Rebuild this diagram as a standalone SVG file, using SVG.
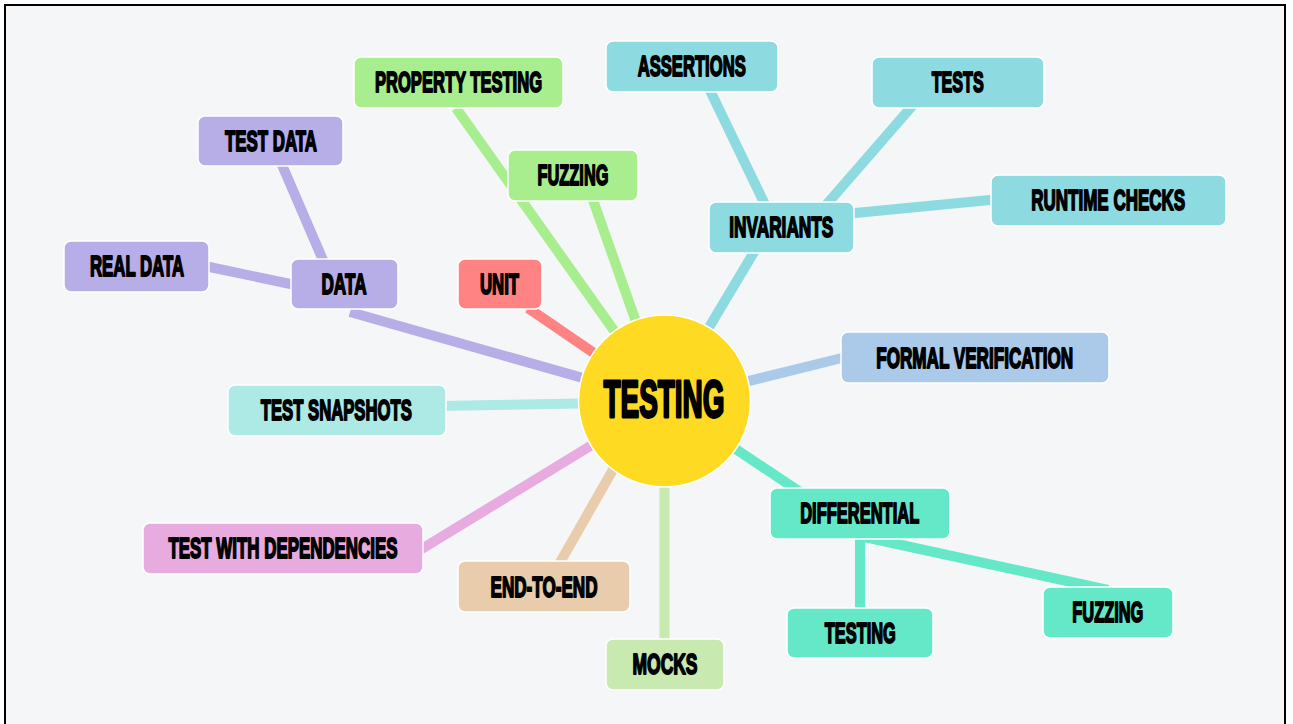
<svg xmlns="http://www.w3.org/2000/svg" width="1293" height="724" viewBox="0 0 1293 724">
  <style>
    .box { stroke: #ffffff; stroke-width: 1.5; }
    /* labels are set small and stretched vertically into a tall condensed face */
    .lbl { font-family: "Liberation Sans", Arial, "DejaVu Sans", sans-serif; font-weight: bold; font-size: 16px; fill: #000; stroke: #000; stroke-width: 1; stroke-linejoin: round; text-anchor: middle; }
    .hub { font-size: 28px; stroke-width: 1.5; }
    .edge { fill: none; stroke-width: 10; stroke-linecap: butt; }
    .purple { fill: #b7ade7; } .purple-l { stroke: #b7ade7; }
    .green { fill: #a8ee8e; } .green-l { stroke: #a8ee8e; }
    .cyan { fill: #8ddae0; } .cyan-l { stroke: #8ddae0; }
    .red { fill: #ff8383; } .red-l { stroke: #ff8383; }
    .blue { fill: #abc9e9; } .blue-l { stroke: #abc9e9; }
    .aqua { fill: #ade9e5; } .aqua-l { stroke: #ade9e5; }
    .pink { fill: #e8abe0; } .pink-l { stroke: #e8abe0; }
    .tan { fill: #e9ccac; } .tan-l { stroke: #e9ccac; }
    .lime { fill: #c8e9af; } .lime-l { stroke: #c8e9af; }
    .mint { fill: #64e8c8; } .mint-l { stroke: #64e8c8; }
  </style>

  <!-- canvas and frame -->
  <rect x="0" y="0" width="1293" height="724" fill="#ffffff"/>
  <rect x="5" y="5" width="1280" height="719" fill="#f5f6f8"/>
  <path d="M5 724 V5 H1285 V724" fill="none" stroke="#000" stroke-width="2"/>

  <!-- connectors -->
  <g id="connectors">
    <line class="edge green-l" x1="664" y1="401" x2="456" y2="108"/>
    <line class="edge green-l" x1="664" y1="401" x2="593" y2="200"/>
    <line class="edge red-l" x1="664" y1="401" x2="528" y2="308"/>
    <line class="edge purple-l" x1="664" y1="401" x2="350" y2="312"/>
    <line class="edge purple-l" x1="279" y1="158" x2="326" y2="267"/>
    <line class="edge purple-l" x1="200" y1="265" x2="300" y2="286"/>
    <line class="edge aqua-l" x1="664" y1="402" x2="440" y2="406"/>
    <line class="edge pink-l" x1="664" y1="401" x2="420" y2="550"/>
    <line class="edge tan-l" x1="655" y1="396" x2="558" y2="566"/>
    <line class="edge lime-l" x1="664.5" y1="401" x2="664.5" y2="645"/>
    <line class="edge mint-l" x1="664" y1="401" x2="800" y2="492"/>
    <line class="edge blue-l" x1="664" y1="402" x2="850" y2="356"/>
    <line class="edge cyan-l" x1="665" y1="401" x2="769" y2="227"/>
    <line class="edge cyan-l" x1="705" y1="80" x2="770" y2="215"/>
    <line class="edge cyan-l" x1="920" y1="97" x2="820" y2="212"/>
    <line class="edge cyan-l" x1="845" y1="214" x2="1000" y2="199"/>
    <line class="edge mint-l" x1="860" y1="530" x2="860" y2="612"/>
    <line class="edge mint-l" x1="860" y1="536" x2="1108" y2="590"/>
  </g>

  <!-- hub -->
  <g id="testing-hub">
    <circle cx="664.5" cy="401" r="86" fill="#fedb22" stroke="#ffffff" stroke-width="1.5"/>
    <text class="lbl hub" transform="translate(664 417) scale(1 1.86)" textLength="121" lengthAdjust="spacingAndGlyphs">TESTING</text>
  </g>

  <!-- data branch -->
  <g id="node-data">
    <rect class="box purple" x="291" y="259" width="107" height="50" rx="7"/>
    <text class="lbl" transform="translate(344 293.5) scale(1 1.875)" textLength="45" lengthAdjust="spacingAndGlyphs">DATA</text>
  </g>
  <g id="node-test-data">
    <rect class="box purple" x="198" y="116" width="145" height="50" rx="7"/>
    <text class="lbl" transform="translate(271 150.5) scale(1 1.875)" textLength="92" lengthAdjust="spacingAndGlyphs">TEST DATA</text>
  </g>
  <g id="node-real-data">
    <rect class="box purple" x="64" y="241" width="145" height="51" rx="7"/>
    <text class="lbl" transform="translate(137 276) scale(1 1.875)" textLength="94" lengthAdjust="spacingAndGlyphs">REAL DATA</text>
  </g>

  <!-- property / fuzzing / unit -->
  <g id="node-property-testing">
    <rect class="box green" x="354" y="57" width="209" height="51" rx="7"/>
    <text class="lbl" transform="translate(458.5 91.7) scale(1 1.875)" textLength="167" lengthAdjust="spacingAndGlyphs">PROPERTY TESTING</text>
  </g>
  <g id="node-fuzzing">
    <rect class="box green" x="508" y="150" width="130" height="51" rx="7"/>
    <text class="lbl" transform="translate(573 184.5) scale(1 1.875)" textLength="71" lengthAdjust="spacingAndGlyphs">FUZZING</text>
  </g>
  <g id="node-unit">
    <rect class="box red" x="458" y="259" width="84" height="50" rx="7"/>
    <text class="lbl" transform="translate(499.5 293.5) scale(1 1.875)" textLength="39" lengthAdjust="spacingAndGlyphs">UNIT</text>
  </g>

  <!-- invariants branch -->
  <g id="node-invariants">
    <rect class="box cyan" x="709" y="202" width="145" height="51" rx="7"/>
    <text class="lbl" transform="translate(781.3 236.7) scale(1 1.875)" textLength="104" lengthAdjust="spacingAndGlyphs">INVARIANTS</text>
  </g>
  <g id="node-assertions">
    <rect class="box cyan" x="606" y="41" width="172" height="51" rx="7"/>
    <text class="lbl" transform="translate(691.7 75.7) scale(1 1.875)" textLength="108" lengthAdjust="spacingAndGlyphs">ASSERTIONS</text>
  </g>
  <g id="node-tests">
    <rect class="box cyan" x="872" y="57" width="172" height="51" rx="7"/>
    <text class="lbl" transform="translate(957.7 91.7) scale(1 1.875)" textLength="52" lengthAdjust="spacingAndGlyphs">TESTS</text>
  </g>
  <g id="node-runtime-checks">
    <rect class="box cyan" x="991" y="175" width="235" height="51" rx="7"/>
    <text class="lbl" transform="translate(1108.2 210) scale(1 1.875)" textLength="154" lengthAdjust="spacingAndGlyphs">RUNTIME CHECKS</text>
  </g>

  <!-- formal verification -->
  <g id="node-formal-verification">
    <rect class="box blue" x="841" y="332" width="268" height="51" rx="7"/>
    <text class="lbl" transform="translate(974.7 368) scale(1 1.875)" textLength="197" lengthAdjust="spacingAndGlyphs">FORMAL VERIFICATION</text>
  </g>

  <!-- differential branch -->
  <g id="node-differential">
    <rect class="box mint" x="770" y="488" width="180" height="51" rx="7"/>
    <text class="lbl" transform="translate(859.7 523.3) scale(1 1.875)" textLength="119" lengthAdjust="spacingAndGlyphs">DIFFERENTIAL</text>
  </g>
  <g id="node-differential-testing">
    <rect class="box mint" x="787" y="608" width="146" height="50" rx="7"/>
    <text class="lbl" transform="translate(860.3 643.3) scale(1 1.875)" textLength="71" lengthAdjust="spacingAndGlyphs">TESTING</text>
  </g>
  <g id="node-differential-fuzzing">
    <rect class="box mint" x="1043" y="587" width="130" height="51" rx="7"/>
    <text class="lbl" transform="translate(1107.8 622.3) scale(1 1.875)" textLength="71" lengthAdjust="spacingAndGlyphs">FUZZING</text>
  </g>

  <!-- lower nodes -->
  <g id="node-mocks">
    <rect class="box lime" x="606" y="639" width="118" height="51" rx="7"/>
    <text class="lbl" transform="translate(665 674.3) scale(1 1.875)" textLength="65" lengthAdjust="spacingAndGlyphs">MOCKS</text>
  </g>
  <g id="node-end-to-end">
    <rect class="box tan" x="458" y="561" width="172" height="51" rx="7"/>
    <text class="lbl" transform="translate(544 596.5) scale(1 1.875)" textLength="107" lengthAdjust="spacingAndGlyphs">END-TO-END</text>
  </g>
  <g id="node-test-with-dependencies">
    <rect class="box pink" x="143" y="523" width="280" height="51" rx="7"/>
    <text class="lbl" transform="translate(283 558.3) scale(1 1.875)" textLength="229" lengthAdjust="spacingAndGlyphs">TEST WITH DEPENDENCIES</text>
  </g>
  <g id="node-test-snapshots">
    <rect class="box aqua" x="228" y="385" width="218" height="51" rx="7"/>
    <text class="lbl" transform="translate(336.3 420) scale(1 1.875)" textLength="151" lengthAdjust="spacingAndGlyphs">TEST SNAPSHOTS</text>
  </g>
</svg>
